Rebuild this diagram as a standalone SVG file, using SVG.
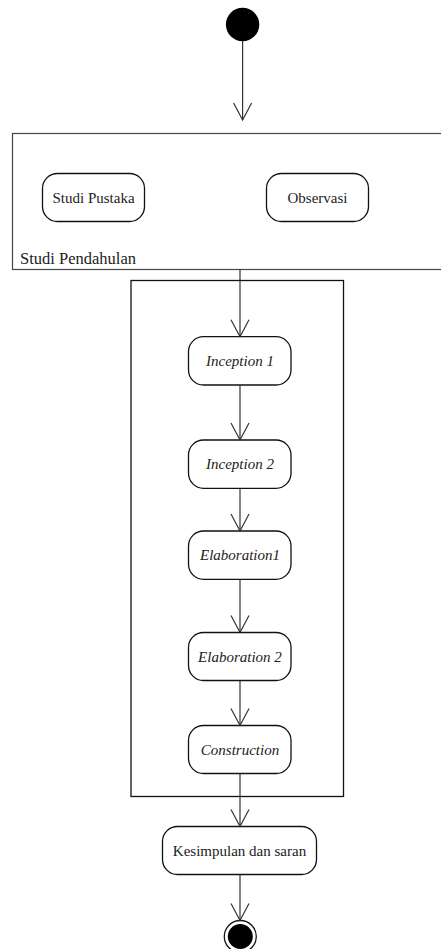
<svg xmlns="http://www.w3.org/2000/svg" width="441" height="949" viewBox="0 0 441 949">
<style>
text{font-family:'Liberation Serif','Times New Roman',serif;fill:#222}
.frame{fill:none;stroke:#444;stroke-width:1.2}
.box{fill:none;stroke:#111;stroke-width:1.3}
.node{fill:#fff;stroke:#111;stroke-width:1.3}
.t{font-size:15px;text-anchor:middle}
.i{font-style:italic}
.lbl{font-size:16.5px}
.c{fill:none;stroke:#333;stroke-width:1.2}
</style>
<defs>
<marker id="a" markerUnits="userSpaceOnUse" markerWidth="20" markerHeight="22" viewBox="-18 -10 20 20" refX="0" refY="0" orient="auto" overflow="visible">
<path d="M-17,-9 L0,0 L-17,9" fill="none" stroke="#333" stroke-width="1.2"/>
</marker>
</defs>
<rect width="441" height="949" fill="#fff"/>
<g id="start"><circle cx="242.6" cy="24.5" r="16.7" fill="#000"/></g>
<g id="studi-pendahulan">
<rect class="frame" x="12.5" y="133.5" width="440" height="136"/>
<text class="lbl" x="20" y="264">Studi Pendahulan</text>
</g>
<g id="studi-pustaka"><rect class="node" x="42.5" y="173.5" width="102" height="48" rx="15"/><text class="t" x="93.5" y="203">Studi Pustaka</text></g>
<g id="observasi"><rect class="node" x="266.5" y="173.5" width="102" height="48" rx="15"/><text class="t" x="317.5" y="203">Observasi</text></g>
<g id="iterasi"><rect class="box" x="131" y="280.5" width="212.5" height="516"/></g>
<g id="inception1"><rect class="node" x="188.5" y="336.7" width="102.5" height="48.3" rx="15"/><text class="t i" x="240" y="366">Inception 1</text></g>
<g id="inception2"><rect class="node" x="188.5" y="440" width="102.5" height="48.3" rx="15"/><text class="t i" x="240" y="469">Inception 2</text></g>
<g id="elaboration1"><rect class="node" x="188.5" y="531" width="102.5" height="48.3" rx="15"/><text class="t i" x="240" y="560">Elaboration1</text></g>
<g id="elaboration2"><rect class="node" x="188.5" y="632.5" width="102.5" height="48" rx="15"/><text class="t i" x="240" y="661.5">Elaboration 2</text></g>
<g id="construction"><rect class="node" x="188.5" y="725.5" width="102.5" height="48" rx="15"/><text class="t i" x="240" y="755">Construction</text></g>
<g id="kesimpulan"><rect class="node" x="162.5" y="826.5" width="154" height="48" rx="15"/><text class="t" x="239.5" y="856">Kesimpulan dan saran</text></g>
<g id="end"><circle cx="240.3" cy="936.5" r="16" fill="#fff" stroke="#111" stroke-width="1.3"/><circle cx="240.3" cy="936.5" r="12.5" fill="#000"/></g>
<g id="connectors">
<line class="c" x1="242.6" y1="41" x2="242.6" y2="120" marker-end="url(#a)"/>
<line class="c" x1="240" y1="269.5" x2="240" y2="336.7" marker-end="url(#a)"/>
<line class="c" x1="240" y1="385" x2="240" y2="440" marker-end="url(#a)"/>
<line class="c" x1="240" y1="488.3" x2="240" y2="531" marker-end="url(#a)"/>
<line class="c" x1="240" y1="579.3" x2="240" y2="632.5" marker-end="url(#a)"/>
<line class="c" x1="240" y1="680.5" x2="240" y2="725.5" marker-end="url(#a)"/>
<line class="c" x1="240" y1="773.5" x2="240" y2="826.5" marker-end="url(#a)"/>
<line class="c" x1="240" y1="874.5" x2="240" y2="920.5" marker-end="url(#a)"/>
</g>
</svg>
